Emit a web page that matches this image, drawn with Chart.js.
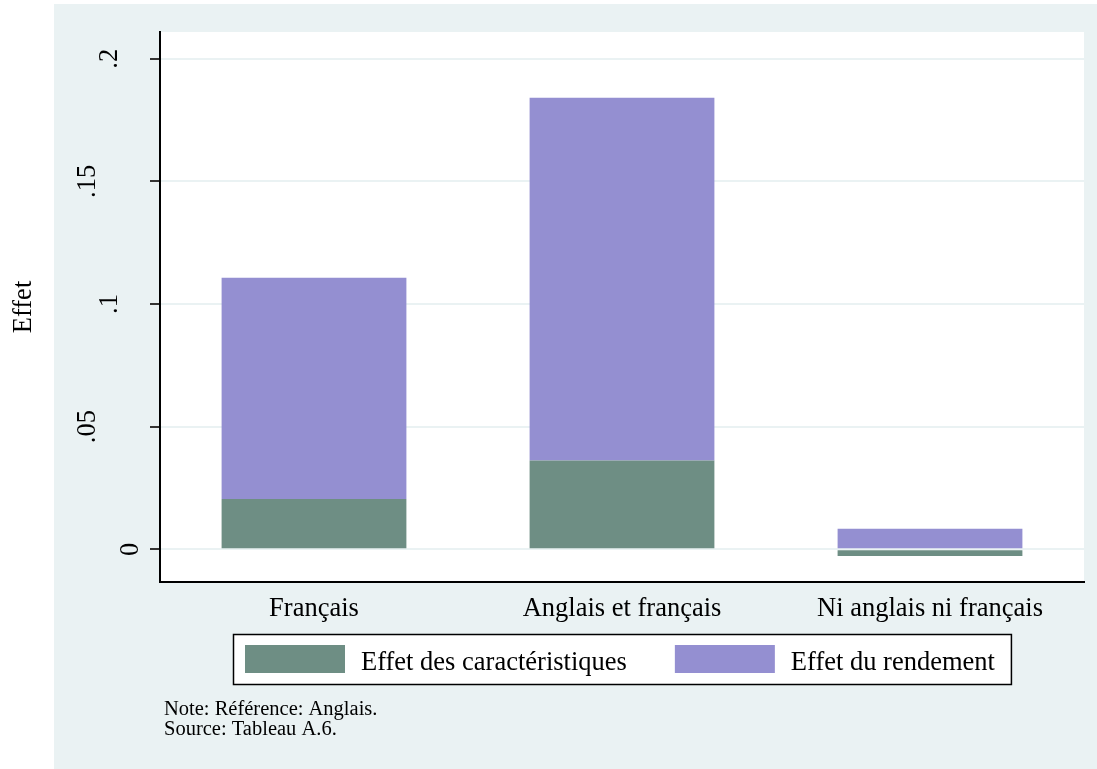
<!DOCTYPE html>
<html lang="fr">
<head>
<meta charset="utf-8">
<title>Effet</title>
<script src="https://cdn.jsdelivr.net/npm/chart.js@4/dist/chart.umd.min.js"></script>
<style>
  html, body { margin: 0; padding: 0; background: #ffffff; }
  canvas { display: block; }
</style>
</head>
<body>
<canvas id="chart" width="1097" height="769"></canvas>
<script>
// Categories and stacked series (effects on the outcome)
const categories = ['Français', 'Anglais et français', 'Ni anglais ni français'];
const effetCaracteristiques = [0.0205, 0.0362, -0.0027];
const effetRendement = [0.0902, 0.1479, 0.0084];
const seriesLabels = ['Effet des caractéristiques', 'Effet du rendement'];

// Y-axis ticks
const yTickValues = [0, 0.05, 0.1, 0.15, 0.2];
const yTickLabels = ['0', '.05', '.1', '.15', '.2'];

const noteLines = ['Note: Référence: Anglais.', 'Source: Tableau A.6.'];

const SERIF = "'Liberation Serif', 'Times New Roman', serif";
const BG = '#EAF2F3';
const GREEN = '#6E8E84';
const PURPLE = '#948FD1';

// Page background, outer panel and white plot region
const panelPlugin = {
  id: 'panel',
  beforeDraw(chart) {
    const { ctx, chartArea: a } = chart;
    ctx.save();
    ctx.fillStyle = '#ffffff';
    ctx.fillRect(0, 0, chart.width, chart.height);
    ctx.fillStyle = BG;
    ctx.fillRect(54, 4, chart.width - 54, chart.height - 4);
    ctx.fillStyle = '#ffffff';
    ctx.fillRect(a.left, a.top, a.right - a.left, a.bottom - a.top);
    ctx.restore();
  }
};

// Vertical tick labels on the y axis; each label steps away from the axis
// by a fixed amount per character, so shorter labels sit closer to it.
const yLabelPlugin = {
  id: 'yLabels',
  afterDraw(chart) {
    const { ctx } = chart;
    const y = chart.scales.y;
    const charStep = 21.5;
    ctx.save();
    ctx.font = '26.5px ' + SERIF;
    ctx.fillStyle = '#000000';
    ctx.textAlign = 'center';
    ctx.textBaseline = 'alphabetic';
    yTickValues.forEach((v, i) => {
      const label = yTickLabels[i];
      const bx = y.right - 0.5 - charStep * label.length;
      const py = y.getPixelForValue(v);
      ctx.save();
      ctx.translate(bx, py);
      ctx.rotate(-Math.PI / 2);
      ctx.fillText(label, 0, 0);
      ctx.restore();
    });
    ctx.restore();
  }
};

// Boxed legend under the axis, then the notes
const legendBoxPlugin = {
  id: 'legendBox',
  afterDraw(chart) {
    const { ctx, chartArea: a } = chart;
    const top = chart.scales.x.bottom;
    const boxH = 50;
    const swW = 100, swH = 28, gap = 16, itemGap = 48, padL = 12, padR = 16;
    ctx.save();
    ctx.font = '26.5px ' + SERIF;
    const items = chart.data.datasets.map(ds => ({
      label: ds.label, color: ds.backgroundColor, w: ctx.measureText(ds.label).width
    }));
    let total = padL + padR;
    items.forEach((it, i) => { total += swW + gap + it.w + (i > 0 ? itemGap : 0); });
    const left = Math.round((a.left + a.right) / 2 - total / 2);
    ctx.fillStyle = '#ffffff';
    ctx.fillRect(left, top, total, boxH);
    ctx.strokeStyle = '#000000';
    ctx.lineWidth = 1.5;
    ctx.strokeRect(left + 0.5, top + 0.5, total, boxH);
    let x = left + padL;
    items.forEach((it, i) => {
      if (i > 0) x += itemGap;
      ctx.fillStyle = it.color;
      ctx.fillRect(x, top + 11, swW, swH);
      x += swW + gap;
      ctx.fillStyle = '#000000';
      ctx.textBaseline = 'alphabetic';
      ctx.textAlign = 'left';
      ctx.fillText(it.label, x, top + 36);
      x += it.w;
    });

    ctx.font = '20.5px ' + SERIF;
    ctx.fillStyle = '#000000';
    noteLines.forEach((t, i) => ctx.fillText(t, 164, 715 + i * 20));
    ctx.restore();
  }
};

new Chart(document.getElementById('chart'), {
  type: 'bar',
  data: {
    labels: categories,
    datasets: [
      { label: seriesLabels[0], data: effetCaracteristiques, backgroundColor: GREEN, borderWidth: 0 },
      { label: seriesLabels[1], data: effetRendement, backgroundColor: PURPLE, borderWidth: 0 }
    ]
  },
  options: {
    responsive: false,
    animation: false,
    devicePixelRatio: 1,
    layout: { padding: { top: 32, right: 13, bottom: 135, left: 0 } },
    datasets: { bar: { barPercentage: 0.6, categoryPercentage: 1.0 } },
    plugins: { legend: { display: false }, tooltip: { enabled: false } },
    scales: {
      x: {
        stacked: true,
        grid: { display: false, drawTicks: false },
        border: { display: true, color: '#000000', width: 2 },
        ticks: { color: '#000000', padding: 11, font: { family: SERIF, size: 26.5 } },
        afterFit(scale) { scale.height = 52; scale.paddingLeft = 0; scale.paddingRight = 0; }
      },
      y: {
        stacked: true,
        min: -0.01333,
        max: 0.2109,
        afterBuildTicks(scale) { scale.ticks = yTickValues.map(v => ({ value: v })); },
        grid: { color: BG, lineWidth: 2, drawTicks: true, tickLength: 10, tickColor: '#333333', tickWidth: 2 },
        border: { display: true, color: '#000000', width: 2 },
        ticks: { display: false },
        title: {
          display: true,
          text: 'Effet',
          color: '#000000',
          padding: { top: 8, bottom: 0 },
          font: { family: SERIF, size: 26.5 }
        },
        afterFit(scale) { scale.width = 160; scale.paddingTop = 0; scale.paddingBottom = 0; }
      }
    }
  },
  plugins: [panelPlugin, yLabelPlugin, legendBoxPlugin]
});
</script>
</body>
</html>
